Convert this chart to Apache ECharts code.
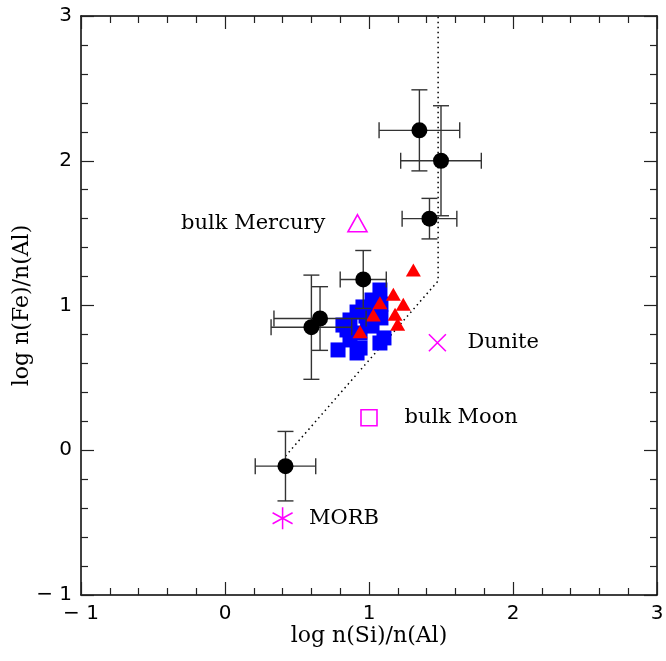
<!DOCTYPE html>
<html>
<head>
<meta charset="utf-8">
<script src="https://cdn.jsdelivr.net/npm/echarts@6/dist/echarts.min.js"></script>
<style>html,body{margin:0;padding:0;background:#fff}#c{width:666px;height:661px}</style>
</head>
<body>
<div id="c"></div>
<script>
// Black circles with error bars
const circX    = [1.35, 1.50, 1.42, 0.96, 0.66, 0.60, 0.42];
const circY    = [2.21, 2.00, 1.60, 1.18, 0.91, 0.85, -0.11];
const circXErr = [0.28, 0.28, 0.19, 0.16, 0.32, 0.28, 0.21];
const circYErr = [0.28, 0.38, 0.14, 0.20, 0.22, 0.36, 0.24];

// Blue squares
const sqX = [1.076, 1.021, 0.958, 1.083, 0.917, 1.083, 0.979, 0.868, 0.847, 1.021, 0.938, 0.868, 0.785, 0.917, 1.076, 1.104, 0.819, 0.938, 1.05, 0.99];
const sqY = [1.107, 1.038, 0.990, 1.010, 0.955, 0.914, 0.927, 0.900, 0.831, 0.858, 0.810, 0.762, 0.693, 0.672, 0.741, 0.776, 0.865, 0.706, 0.96, 0.88];

// Red triangles
const triX = [1.308, 1.169, 1.238, 1.076, 1.030, 1.181, 1.199, 0.938];
const triY = [1.245, 1.077, 1.008, 1.019, 0.934, 0.939, 0.870, 0.819];

// Dotted boundary line
const lineX = [0.42, 1.48, 1.48];
const lineY = [-0.04, 1.17, 3.0];

// Reference objects
const refNames = ['bulk Mercury', 'Dunite', 'bulk Moon', 'MORB'];
const refX = [0.92, 1.475, 1.00, 0.40];
const refY = [1.568, 0.743, 0.225, -0.47];

// Axis
const axisMin = -1, axisMax = 3, axisStep = 1;
const xTitle = 'log n(Si)/n(Al)';
const yTitle = 'log n(Fe)/n(Al)';

const MAG = '#ff00ff';
const serif = 'DejaVu Serif';
const sans = 'DejaVu Sans';

const fmt = v => v < 0 ? '\u2212 ' + Math.abs(v) : String(v);

function mkAxis(pos, show, extra) {
  return Object.assign({
    type: 'value', position: pos, min: axisMin, max: axisMax, interval: axisStep,
    axisLine: {show: true, onZero: false, lineStyle: {color: '#000', width: 1.5}},
    axisTick: {show: true, inside: true, length: 13, lineStyle: {color: '#222', width: 1.2}},
    minorTick: {show: true, splitNumber: 5, length: 7, lineStyle: {color: '#222', width: 1.2}},
    splitLine: {show: false},
    axisLabel: {show: show, formatter: fmt, color: '#000', fontFamily: sans, fontSize: 20, margin: 9}
  }, extra || {});
}

const errData = circX.map((x, i) => [x, circY[i], circXErr[i], circYErr[i]]);

const symPaths = {
  cross: 'path://M0,0L20,20M20,0L0,20',
  aster: 'path://M10,0L10,24M0,6L20,18M20,6L0,18'
};

const refStyles = [
  {symbol: 'triangle', symbolSize: [19, 17], pos: 'left', dist: 20},
  {symbol: symPaths.cross, symbolSize: 17, pos: 'right', dist: 19},
  {symbol: 'rect', symbolSize: 16, pos: 'right', dist: 25},
  {symbol: symPaths.aster, symbolSize: [20, 22], pos: 'right', dist: 14}
];

const refData = refNames.map((n, i) => ({
  value: [refX[i], refY[i]],
  name: n,
  symbol: refStyles[i].symbol,
  symbolSize: refStyles[i].symbolSize,
  label: {show: true, formatter: n, position: refStyles[i].pos, distance: refStyles[i].dist,
          color: '#000', fontFamily: serif, fontSize: 21}
}));

const chart = echarts.init(document.getElementById('c'), null, {renderer: 'canvas'});
chart.setOption({
  animation: false,
  backgroundColor: '#fff',
  grid: {left: 81, right: 9, top: 16, bottom: 66, outerBoundsMode: 'none'},
  xAxis: [
    mkAxis('bottom', true, {name: xTitle, nameLocation: 'middle', nameGap: 30, nameMoveOverlap: false,
      nameTextStyle: {color: '#000', fontFamily: serif, fontSize: 22}}),
    mkAxis('top', false)
  ],
  yAxis: [
    mkAxis('left', true, {name: yTitle, nameLocation: 'middle', nameGap: 48, nameRotate: 90, nameMoveOverlap: false,
      nameTextStyle: {color: '#000', fontFamily: serif, fontSize: 22}}),
    mkAxis('right', false)
  ],
  series: [
    {
      type: 'line', data: lineX.map((x, i) => [x, lineY[i]]), showSymbol: false, symbol: 'none',
      lineStyle: {color: '#000', width: 1.5, type: [1.5, 3.5]}, z: 1, silent: true
    },
    {
      type: 'scatter', data: sqX.map((x, i) => [x, sqY[i]]), symbol: 'rect', symbolSize: 15,
      itemStyle: {color: '#0000ff', opacity: 1}, z: 2
    },
    {
      type: 'scatter', data: triX.map((x, i) => [x, triY[i]]), symbol: 'triangle', symbolSize: [15, 13],
      itemStyle: {color: '#ff0000', opacity: 1}, z: 3
    },
    {
      type: 'custom', z: 4, data: errData,
      renderItem: function (params, api) {
        const x = api.value(0), y = api.value(1), ex = api.value(2), ey = api.value(3);
        const l = api.coord([x - ex, y]), r = api.coord([x + ex, y]);
        const t = api.coord([x, y + ey]), b = api.coord([x, y - ey]);
        const c = 8;
        const st = {stroke: '#333', lineWidth: 1.4};
        return {type: 'group', children: [
          {type: 'line', shape: {x1: l[0], y1: l[1], x2: r[0], y2: r[1]}, style: st},
          {type: 'line', shape: {x1: l[0], y1: l[1] - c, x2: l[0], y2: l[1] + c}, style: st},
          {type: 'line', shape: {x1: r[0], y1: r[1] - c, x2: r[0], y2: r[1] + c}, style: st},
          {type: 'line', shape: {x1: t[0], y1: t[1], x2: b[0], y2: b[1]}, style: st},
          {type: 'line', shape: {x1: t[0] - c, y1: t[1], x2: t[0] + c, y2: t[1]}, style: st},
          {type: 'line', shape: {x1: b[0] - c, y1: b[1], x2: b[0] + c, y2: b[1]}, style: st}
        ]};
      }
    },
    {
      type: 'scatter', data: circX.map((x, i) => [x, circY[i]]), symbol: 'circle', symbolSize: 16,
      itemStyle: {color: '#000', opacity: 1}, z: 5
    },
    {
      type: 'scatter', data: refData, z: 6,
      itemStyle: {color: 'none', borderColor: MAG, borderWidth: 1.6, opacity: 1}
    }
  ]
});
</script>
</body>
</html>
